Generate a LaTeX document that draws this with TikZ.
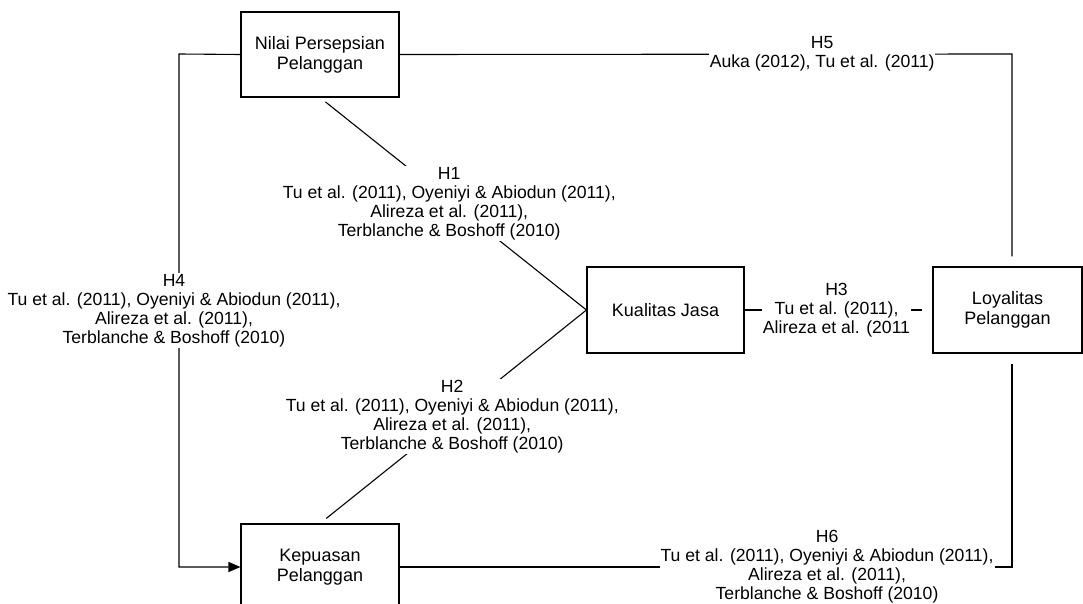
\documentclass[tikz,border=0pt]{standalone}
\usepackage{fontspec}
\setmainfont{Liberation Sans}
\usetikzlibrary{arrows.meta}
\begin{document}
\begin{tikzpicture}[x=1pt,y=-1pt,
  box/.style={draw=black, line width=1.1pt, inner sep=0pt, align=center,
    font=\fontsize{18}{20}\selectfont},
  lbl/.style={fill=white, inner sep=1pt, align=center,
    font=\fontsize{17.6}{19}\selectfont},
  conn/.style={draw=black, line width=1.1pt}
]
\useasboundingbox (0,0) rectangle (1083,604);
\clip (0,0) rectangle (1083,604);
\fill[white] (0,0) rectangle (1083,604);

\node[box, minimum width=158pt, minimum height=85pt] (nilai) at (320,54.5) {Nilai Persepsian\\Pelanggan};
\node[box, minimum width=157pt, minimum height=86pt] (kual) at (665.5,310) {Kualitas Jasa};
\node[box, minimum width=149pt, minimum height=86pt] (loyal) at (1007.5,310) {Loyalitas\\Pelanggan};
\node[box, minimum width=158pt, minimum height=86pt] (kep) at (320,567) {Kepuasan\\Pelanggan};

\coordinate (c5) at (1012,54);
\coordinate (c4a) at (179,54);
\coordinate (c4b) at (179,567);
\coordinate (c6) at (1012,567);

% H1
\draw[conn, shorten <=7pt] (nilai.south) -- node[lbl, xshift=-4pt] {H1\\Tu et al. (2011), Oyeniyi \& Abiodun (2011),\\Alireza et al. (2011),\\Terblanche \& Boshoff (2010)} (kual.west);
% H2
\draw[conn, shorten >=8pt] (kual.west) -- node[lbl, xshift=-1pt] {H2\\Tu et al. (2011), Oyeniyi \& Abiodun (2011),\\Alireza et al. (2011),\\Terblanche \& Boshoff (2010)} (kep.north);
% H3
\draw[conn, shorten >=10pt] (kual.east) -- node[lbl, xshift=-2pt] {H3\\Tu et al. (2011),\\Alireza et al. (2011} (loyal.west);
% H4
\draw[conn, -{Triangle[length=12pt,width=10pt]}] (nilai.west) -- (c4a) -- node[lbl, xshift=-5pt] {H4\\Tu et al. (2011), Oyeniyi \& Abiodun (2011),\\Alireza et al. (2011),\\Terblanche \& Boshoff (2010)} (c4b) -- (kep.west);
% H5
\draw[conn, shorten >=10pt] (nilai.east) -- node[lbl, pos=0.69] {H5\\Auka (2012), Tu et al. (2011)} (c5) -- (c5 |- loyal.north);
% H6
\draw[conn, shorten >=10pt] (kep.east) -- node[lbl, pos=0.698] {H6\\Tu et al. (2011), Oyeniyi \& Abiodun (2011),\\Alireza et al. (2011),\\Terblanche \& Boshoff (2010)} (c6) -- (c6 |- loyal.south);
\end{tikzpicture}
\end{document}
